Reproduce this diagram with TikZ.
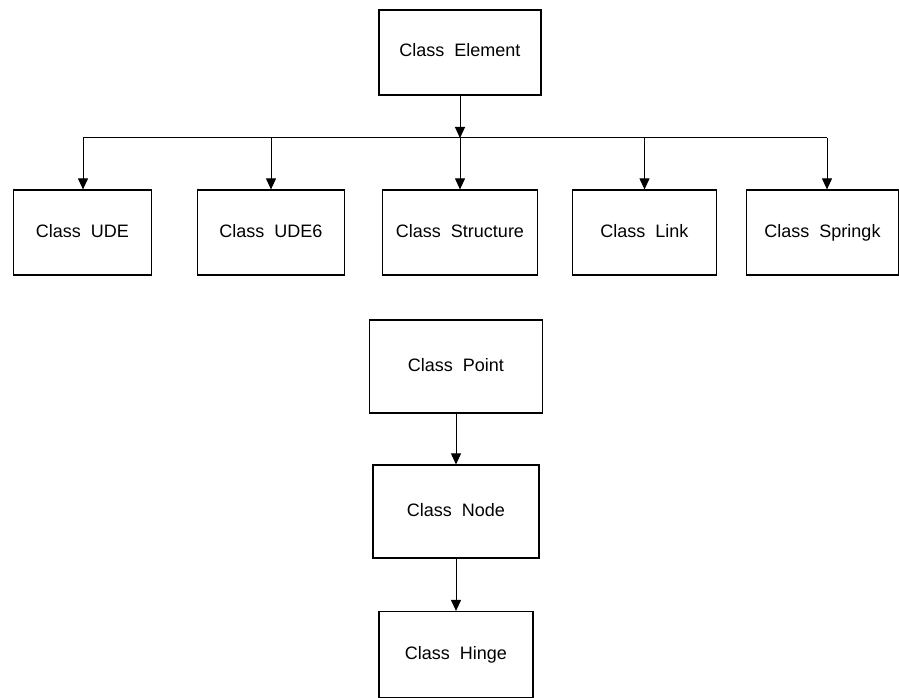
\documentclass[tikz,border=0pt]{standalone}
\usepackage{fontspec}
\setmainfont{Liberation Sans}
\usetikzlibrary{positioning}
\usetikzlibrary{arrows.meta}

\begin{document}
\begin{tikzpicture}[x=1pt, y=1pt, node distance=50pt, every text node part/.style={align=center},
    classbox/.style={draw, line width=1.2pt, minimum height=85pt, text height=13pt, text depth=4pt, font=\fontsize{18}{21}\selectfont},
    link line/.style={line width=1pt},
    >={Triangle[length=11pt, width=10pt]}]
\useasboundingbox (0,0) rectangle (899,-698);

\node (class element) [classbox, minimum width=162pt] at (460,-52.5) {Class~~Element};
\node (class structure) [classbox, minimum width=155pt, node distance=180pt, below of=class element] {Class~~Structure};
\node (class ude6) [classbox, minimum width=147pt, node distance=189pt, left of=class structure] {Class~~UDE6};
\node (class ude) [classbox, minimum width=138pt, node distance=188.5pt, left of=class ude6] {Class~~UDE};
\node (class link) [classbox, minimum width=144pt, node distance=184.5pt, right of=class structure] {Class~~Link};
\node (class springk) [classbox, minimum width=152pt, node distance=178pt, right of=class link] {Class~~Springk};

\node (class point) [classbox, minimum width=173pt, minimum height=93pt, node distance=134pt, below of=class structure, xshift=-4pt] {Class~~Point};
\node (class node) [classbox, minimum width=166pt, minimum height=93pt, node distance=145pt, below of=class point] {Class~~Node};
\node (class hinge) [classbox, minimum width=154pt, minimum height=86pt, node distance=143pt, below of=class node] {Class~~Hinge};

\coordinate (bus left) at (83,-138);
\coordinate (bus right) at (827,-138);

\draw [link line] (bus left) -- (bus right);
\draw [link line, ->] (class element.south) -- (class element.south |- bus left);
\draw [link line, ->] (bus left) -- (bus left |- class ude.north);
\draw [link line, ->] (class ude6.north |- bus left) -- (class ude6.north);
\draw [link line, ->] (class structure.north |- bus left) -- (class structure.north);
\draw [link line, ->] (class link.north |- bus left) -- (class link.north);
\draw [link line, ->] (bus right) -- (bus right |- class springk.north);

\draw [link line, ->] (class point.south) -- (class node.north);
\draw [link line, ->] (class node.south) -- (class hinge.north);

\end{tikzpicture}
\end{document}
